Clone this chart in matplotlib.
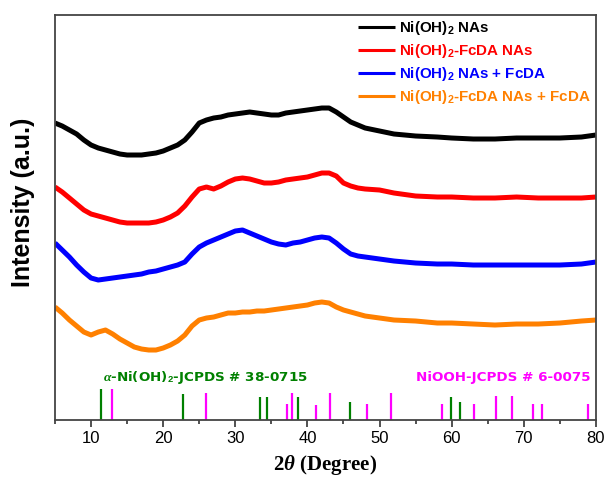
import matplotlib
matplotlib.use("Agg")
import matplotlib.pyplot as plt

plt.rcParams["font.family"] = ["Liberation Sans", "DejaVu Sans"]
plt.rcParams["mathtext.fontset"] = "custom"
plt.rcParams["mathtext.rm"] = "Liberation Sans:bold"
plt.rcParams["mathtext.bf"] = "Liberation Sans:bold"
plt.rcParams["mathtext.it"] = "Liberation Serif:italic:bold"

# 2-theta grid (degrees) of the traced patterns
two_theta = [5, 6, 7, 8, 9, 10, 11, 12, 13, 14, 15, 16, 17, 18, 19, 20, 21, 22, 23, 24,
             25, 26, 27, 28, 29, 30, 31, 32, 33, 34, 35, 36, 37, 38, 39, 40, 41, 42, 43,
             44, 45, 46, 47, 48, 50, 52, 55, 58, 60, 63, 66, 69, 72, 75, 78, 80]

# offset intensities (a.u.)
ni_oh2 = [297, 294, 290, 286, 280, 275, 272, 270, 268, 266, 265, 265, 265, 266, 267, 269,
          272, 275, 280, 288, 297, 300, 302, 303, 305, 306, 307, 308, 307, 306, 305, 305,
          307, 308, 309, 310, 311, 312, 312, 308, 303, 298, 295, 292, 289, 286, 284, 283,
          282, 281, 281, 282, 282, 282, 283, 285]
ni_oh2_fcda = [233, 228, 222, 216, 210, 206, 204, 202, 200, 198, 197, 197, 197, 197, 198,
               200, 203, 207, 214, 223, 231, 233, 231, 234, 238, 241, 242, 241, 239, 237,
               237, 238, 240, 241, 242, 243, 245, 247, 247, 244, 237, 234, 232, 231, 230,
               227, 224, 223, 223, 222, 222, 223, 222, 222, 222, 223]
ni_oh2_plus_fcda = [177, 170, 163, 155, 148, 142, 140, 141, 142, 143, 144, 145, 146, 148,
                    149, 151, 153, 155, 158, 166, 173, 177, 180, 183, 186, 189, 190, 187,
                    184, 181, 178, 176, 175, 177, 178, 180, 182, 183, 182, 177, 171, 166,
                    164, 163, 161, 159, 157, 156, 156, 155, 155, 155, 155, 155, 156, 158]
ni_oh2_fcda_plus_fcda = [113, 107, 100, 94, 88, 85, 88, 90, 86, 81, 77, 73, 71, 70, 70, 72,
                         75, 79, 85, 94, 100, 102, 103, 105, 107, 107, 108, 108, 109, 109,
                         110, 111, 112, 113, 114, 115, 117, 118, 117, 113, 110, 108, 106,
                         104, 102, 100, 99, 97, 97, 96, 95, 96, 96, 97, 99, 100]

series_labels = [r"Ni(OH)$_2$ NAs",
                 r"Ni(OH)$_2$-FcDA NAs",
                 r"Ni(OH)$_2$ NAs + FcDA",
                 r"Ni(OH)$_2$-FcDA NAs + FcDA"]
series_colors = ["#000000", "#FF0000", "#0000FF", "#FF8000"]

# standard reference patterns
alpha_pos = [11.33, 22.7, 33.42, 34.43, 38.74, 45.9, 59.86, 61.15]
alpha_int = [31, 26, 23, 23, 23, 18, 23, 18]
niooh_pos = [12.86, 25.94, 37.12, 37.86, 41.14, 43.17, 48.26, 51.53, 58.6, 63.09, 66.1,
             68.3, 71.3, 72.56, 78.94]
niooh_int = [31, 27, 16, 27, 15, 27, 16, 27, 16, 16, 24, 24, 16, 16, 16]

fig = plt.figure(figsize=(6.05, 4.84), dpi=100)
ax = fig.add_axes([0.0909, 0.1322, 0.8941, 0.8368])

all_series = [ni_oh2, ni_oh2_fcda, ni_oh2_plus_fcda, ni_oh2_fcda_plus_fcda]
for vals, col in zip(all_series, series_colors):
    ax.plot(two_theta, vals, color=col, lw=3.6, solid_joinstyle="round",
            solid_capstyle="butt")

ax.vlines(alpha_pos, 0, alpha_int, color="#008000", lw=1.6)
ax.vlines(niooh_pos, 0, niooh_int, color="#FF00FF", lw=1.6)

ax.text(11.63, 39, r"$\alpha$-Ni(OH)$_2$-JCPDS # 38-0715", color="#008000",
        fontsize=9.7, fontweight="bold", family="DejaVu Sans",
        ha="left", va="baseline")
ax.text(79.3, 39, "NiOOH-JCPDS # 6-0075", color="#FF00FF",
        fontsize=9.7, fontweight="bold", family="DejaVu Sans",
        ha="right", va="baseline")

# key in the upper right corner (axes fractions)
key_rows = [0.970, 0.914, 0.858, 0.800]
for lab, col, yr in zip(series_labels, series_colors, key_rows):
    ax.plot([0.560, 0.628], [yr, yr], color=col, lw=2.2, transform=ax.transAxes,
            solid_capstyle="butt")
    ax.text(0.636, yr - 0.013, lab, color=col, fontsize=10.9, fontweight="bold",
            transform=ax.transAxes, ha="left", va="baseline")

ax.set_xlim(5, 80)
ax.set_ylim(0, 405)
ax.set_xticks([10, 20, 30, 40, 50, 60, 70, 80])
ax.set_xticks([5, 15, 25, 35, 45, 55, 65, 75], minor=True)
ax.set_yticks([])
ax.tick_params(axis="x", which="major", direction="out", length=5, width=1.2,
               labelsize=12, colors="#333333", labelcolor="black", pad=3)
ax.tick_params(axis="x", which="minor", direction="out", length=3, width=1.2,
               colors="#333333")
for sp in ax.spines.values():
    sp.set_color("#444444")
    sp.set_linewidth(1.3)

ax.set_ylabel("Intensity (a.u.)", fontsize=18, fontweight="bold")
ax.yaxis.set_label_coords(-0.037, 0.538)
ax.set_xlabel(r"2$\theta$ (Degree)", fontsize=15, fontweight="bold",
              fontfamily="Liberation Serif", labelpad=5)

fig.savefig("out.png", dpi=100)
